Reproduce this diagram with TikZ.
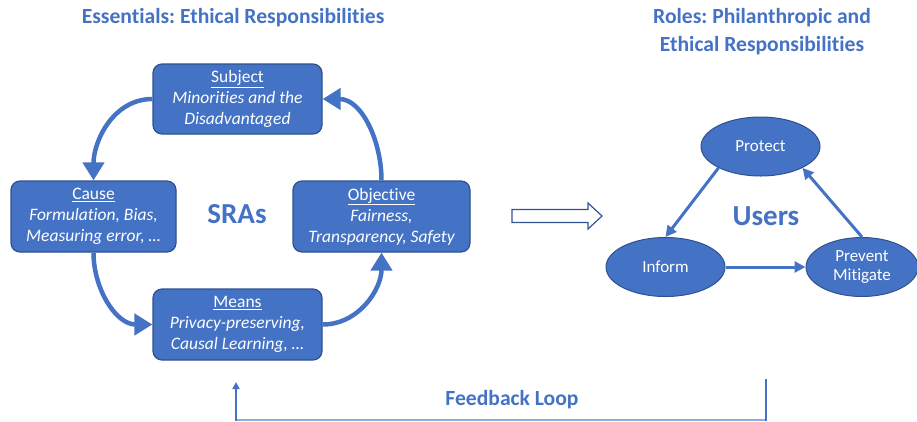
\documentclass[tikz,border=0pt]{standalone}
\usepackage{fontspec}
\setmainfont{Carlito}[Ligatures=NoCommon]
\usetikzlibrary{arrows.meta,shapes.geometric}
\definecolor{boxblue}{RGB}{68,114,196}
\definecolor{boxedge}{RGB}{47,82,143}
\definecolor{darkedge}{RGB}{47,85,151}
\definecolor{lightline}{RGB}{143,170,220}
\frenchspacing
\tikzset{
  sbox/.style={draw=boxedge, line width=1.2pt, fill=boxblue, rounded corners=9pt, text=white,
    align=center, inner sep=0pt, font=\fontsize{17.5}{21}\selectfont},
  ell/.style={ellipse, draw=boxedge, line width=1pt, fill=boxblue, text=white, inner sep=0pt,
    align=center, minimum width=119pt, minimum height=59pt, font=\fontsize{17}{19.5}\selectfont},
  bigarrow/.style={draw=boxblue, line width=4.5pt, -{Triangle[length=18pt,width=21pt]}},
  midarrow/.style={draw=boxblue, line width=3pt, -{Triangle[length=11pt,width=11pt]}},
  title/.style={text=boxblue, font=\fontsize{21.6}{28}\selectfont\bfseries, align=center},
  centre/.style={text=boxblue, font=\fontsize{29}{30}\selectfont\bfseries},
}
\begin{document}
\begin{tikzpicture}[x=1pt,y=-1pt]
\useasboundingbox (0,0) rectangle (917,421);
% titles
\node[title] (t1) at (233,18) {Essentials: Ethical Responsibilities};
\node[title] (t2) at (762,32) {Roles: Philanthropic and\\Ethical Responsibilities};
% boxes
\node[sbox, minimum width=169pt, minimum height=70pt] (subj) at (237.5,99) {\underline{Subject}\\\itshape Minorities and the\\\itshape Disadvantaged};
\node[sbox, minimum width=165pt, minimum height=71pt] (cause) at (93.5,216.5) {\underline{Cause}\\\itshape Formulation, Bias,\\\itshape Measuring error, \dots};
\node[sbox, minimum width=177pt, minimum height=71pt] (obj) at (381.5,216.5) {\underline{Objective}\\\itshape Fairness,\\\itshape Transparency, Safety};
\node[sbox, minimum width=169pt, minimum height=71pt] (means) at (237.5,324.5) {\underline{Means}\\\itshape Privacy-preserving,\\\itshape Causal Learning, \dots};
\node[centre] (sras) at (237,214) {SRAs};
% curved arrows
\draw[bigarrow] (subj.west) to[out=180,in=90] (cause.north);
\draw[bigarrow] (cause.south) to[out=-90,in=180] (means.west);
\draw[bigarrow] (means.east) to[out=0,in=-90] (obj.south);
\draw[bigarrow] (obj.north) to[out=90,in=0] (subj.east);
% hollow arrow
\draw[darkedge, fill=white, line width=1.2pt, line join=miter]
  (512,209.5) -- (588,209.5) -- (588,203) -- (602,216) -- (588,229) -- (588,222.5) -- (512,222.5) -- cycle;
% ellipses
\node[ell] (protect) at (760.5,146.5) {Protect};
\node[ell] (inform) at (665.5,267) {Inform};
\node[ell, minimum width=112pt] (prevent) at (862,267) {Prevent\\Mitigate};
\node[centre] (users) at (766,216) {Users};
\draw[midarrow] (protect.207) -- (inform.north);
\draw[midarrow] (inform.east) -- (prevent.west);
\draw[midarrow] (prevent.north) -- (protect.-27);
% feedback loop
\coordinate (fl0) at (236,421);
\coordinate (fl1) at (236,382);
\coordinate (fr0) at (766,421);
\coordinate (fr1) at (766,379);
\coordinate (bl) at (236,420);
\coordinate (br) at (766,420);
\draw[lightline, line width=1.5pt] (bl) -- (br);
\draw[boxblue, line width=2pt, -{Triangle[length=7pt,width=7pt]}] (fl0) -- (fl1);
\draw[boxblue, line width=2.5pt] (fr0) -- (fr1);
\node[title] (fb) at (512,400) {Feedback Loop};
\end{tikzpicture}
\end{document}
